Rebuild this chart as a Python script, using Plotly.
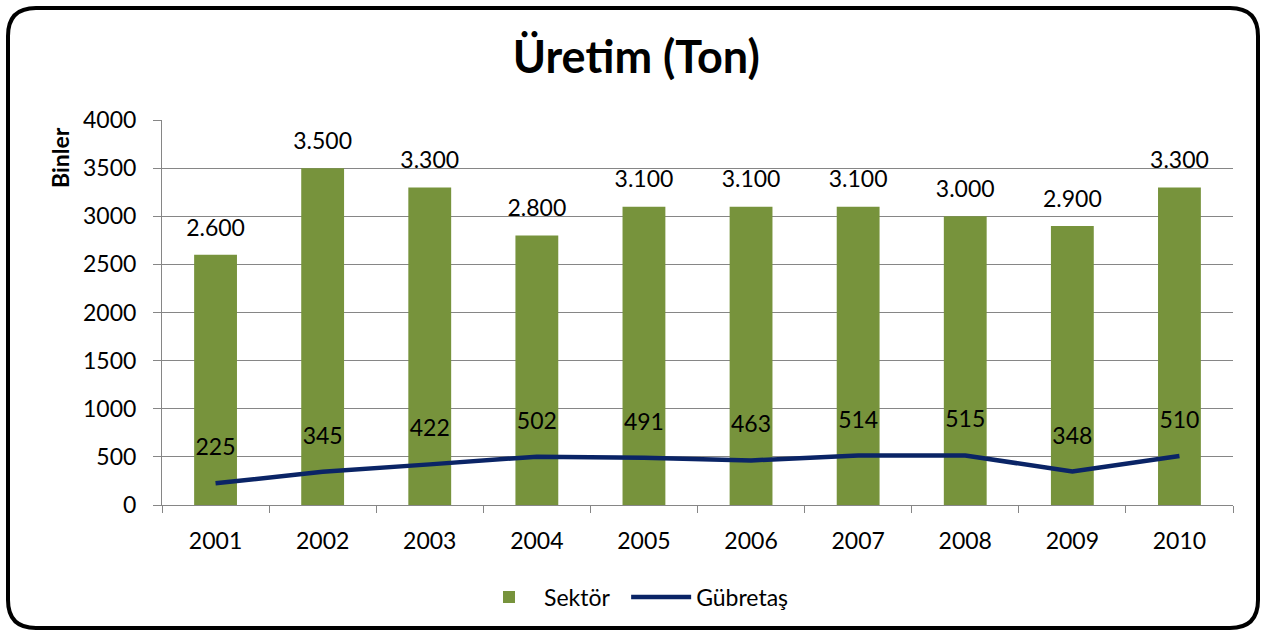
import plotly.graph_objects as go

years = ["2001", "2002", "2003", "2004", "2005", "2006", "2007", "2008", "2009", "2010"]
sektor = [2600, 3500, 3300, 2800, 3100, 3100, 3100, 3000, 2900, 3300]
gubretas = [225, 345, 422, 502, 491, 463, 514, 515, 348, 510]
y_ticks = [0, 500, 1000, 1500, 2000, 2500, 3000, 3500, 4000]
series_names = ["Sektör", "Gübretaş"]

FONT = "Lato"
FS = 23
W, H = 1265, 632
ML, MR, MT, MB = 162, 32, 120, 127
PW, PH = W - ML - MR, H - MT - MB


def px(x):
    return (x - ML) / PW


def py(y):
    return 1 - (y - MT) / PH


def fmt(v):
    return f"{v:,}".replace(",", ".")


fig = go.Figure()
fig.add_trace(go.Bar(
    x=years, y=sektor, name=series_names[0] + "\u00a0\u00a0",
    marker=dict(color="#77933C", line=dict(width=0)),
    hoverinfo="x+y",
))
# bar value labels
fig.add_trace(go.Scatter(
    x=years, y=sektor, mode="markers+text", showlegend=False,
    marker=dict(size=20, color="rgba(0,0,0,0)"),
    text=[fmt(v) for v in sektor], textposition="top center",
    textfont=dict(family=FONT, size=FS, color="black"),
    hoverinfo="skip", cliponaxis=False,
))
fig.add_trace(go.Scatter(
    x=years, y=gubretas, name=series_names[1],
    mode="lines+markers+text",
    line=dict(color="#0A2466", width=4.5),
    marker=dict(size=34, color="rgba(0,0,0,0)"),
    text=[str(v) for v in gubretas], textposition="top center",
    textfont=dict(family=FONT, size=FS, color="black"),
    cliponaxis=False,
))

# rounded border
L, T, R, B, r = 8, 8, 1258, 628, 28
path = (
    f"M {px(L + r)},{py(T)} L {px(R - r)},{py(T)} Q {px(R)},{py(T)} {px(R)},{py(T + r)} "
    f"L {px(R)},{py(B - r)} Q {px(R)},{py(B)} {px(R - r)},{py(B)} "
    f"L {px(L + r)},{py(B)} Q {px(L)},{py(B)} {px(L)},{py(B - r)} "
    f"L {px(L)},{py(T + r)} Q {px(L)},{py(T)} {px(L + r)},{py(T)} Z"
)
fig.add_shape(type="path", xref="paper", yref="paper", path=path,
              line=dict(color="black", width=4), layer="above")

fig.add_annotation(text="<b>Binler</b>", xref="paper", yref="paper",
                   x=px(60), y=py(158), xanchor="center", yanchor="middle",
                   textangle=-90, showarrow=False,
                   font=dict(family=FONT, size=23, color="black"))

fig.update_layout(
    width=W, height=H,
    margin=dict(l=ML, r=MR, t=MT, b=MB),
    paper_bgcolor="white", plot_bgcolor="white",
    font=dict(family=FONT, color="black"),
    title=dict(text="<b>Üretim (Ton)</b>", x=0.503, xref="container", xanchor="center",
               y=1 - 57 / H, yanchor="middle",
               font=dict(family=FONT, size=45, color="black")),
    bargap=0.6,
    showlegend=True,
    legend=dict(orientation="h", x=px(474), xanchor="left",
                y=py(597), yanchor="middle",
                font=dict(family=FONT, size=FS, color="black"),
                itemwidth=60),
    xaxis=dict(type="category", range=[-0.5, len(years) - 0.5],
               showline=True, linecolor="#868686", linewidth=1,
               ticks="outside", tickson="boundaries", ticklen=7, tickcolor="#868686",
               ticklabelstandoff=15,
               tickfont=dict(family=FONT, size=FS, color="black"), showgrid=False),
    yaxis=dict(range=[0, 4000], tickvals=y_ticks, showline=True, linecolor="#868686",
               linewidth=1, ticks="outside", ticklen=8, tickcolor="#868686",
               ticklabelstandoff=12,
               gridcolor="#868686", gridwidth=1, zeroline=False,
               tickfont=dict(family=FONT, size=FS, color="black")),
)

fig.write_html("out.html", config={"displayModeBar": False},
               post_script="document.body.style.margin='0px';")
